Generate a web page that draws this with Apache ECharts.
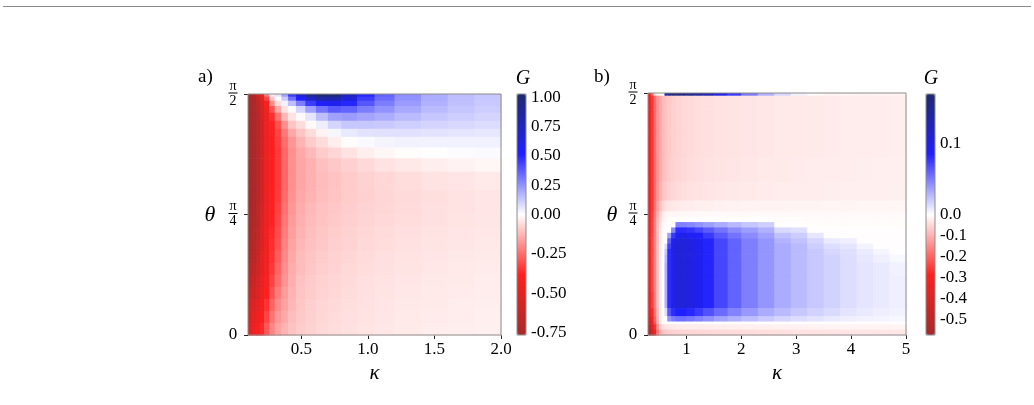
<!DOCTYPE html>
<html>
<head>
<meta charset="utf-8">
<script src="https://cdn.jsdelivr.net/npm/echarts@6/dist/echarts.min.js"></script>
<style>
  html, body { margin: 0; padding: 0; background: #fff; }
  #chart { width: 1034px; height: 405px; }
</style>
</head>
<body>
<div id="chart"></div>
<script>
  // ---- panel a) : kappa cell edges, theta cell edges (degrees, top -> bottom), G values
  const kappaA = [0.1, 0.13, 0.16, 0.19, 0.22, 0.26, 0.30, 0.35, 0.40, 0.46, 0.53, 0.61, 0.70, 0.80, 0.92, 1.05, 1.2, 1.4, 1.6, 1.8, 2.0];
  const thetaA = [90, 89, 87.5, 85.5, 83, 80, 77, 74, 70, 66, 61, 54, 49.5, 45, 40.5, 36, 31.5, 27, 22.5, 18, 13.5, 9, 4.5, 0];
  const gA = [
    [-0.77, -0.72, -0.6, -0.45, -0.22, -0.03, 0.06, 0.22, 0.45, 0.68, 0.92, 1.02, 1.0, 0.75, 0.5, 0.36, 0.26, 0.19, 0.15, 0.13],
    [-0.77, -0.73, -0.63, -0.5, -0.32, -0.1, 0.0, 0.12, 0.33, 0.52, 0.72, 0.82, 0.8, 0.65, 0.45, 0.34, 0.25, 0.19, 0.15, 0.13],
    [-0.77, -0.74, -0.66, -0.54, -0.4, -0.2, -0.06, 0.03, 0.15, 0.3, 0.45, 0.55, 0.58, 0.5, 0.39, 0.3, 0.23, 0.18, 0.145, 0.125],
    [-0.77, -0.74, -0.67, -0.56, -0.44, -0.3, -0.15, -0.05, 0.01, 0.1, 0.22, 0.32, 0.38, 0.36, 0.3, 0.25, 0.2, 0.16, 0.135, 0.115],
    [-0.77, -0.74, -0.68, -0.57, -0.45, -0.36, -0.24, -0.12, -0.05, -0.01, 0.06, 0.15, 0.22, 0.23, 0.21, 0.19, 0.16, 0.13, 0.115, 0.1],
    [-0.77, -0.74, -0.68, -0.58, -0.46, -0.38, -0.3, -0.19, -0.1, -0.06, -0.01, 0.04, 0.1, 0.13, 0.13, 0.125, 0.11, 0.1, 0.09, 0.08],
    [-0.77, -0.74, -0.68, -0.58, -0.46, -0.39, -0.32, -0.23, -0.15, -0.1, -0.06, -0.02, 0.02, 0.05, 0.065, 0.07, 0.07, 0.065, 0.06, 0.055],
    [-0.77, -0.74, -0.68, -0.58, -0.46, -0.4, -0.33, -0.25, -0.18, -0.13, -0.09, -0.06, -0.03, -0.005, 0.015, 0.025, 0.03, 0.03, 0.032, 0.032],
    [-0.77, -0.74, -0.68, -0.58, -0.46, -0.4, -0.34, -0.26, -0.19, -0.15, -0.12, -0.09, -0.07, -0.05, -0.03, -0.015, -0.005, 0.003, 0.008, 0.01],
    [-0.77, -0.74, -0.68, -0.58, -0.46, -0.4, -0.34, -0.26, -0.19, -0.155, -0.135, -0.11, -0.095, -0.08, -0.065, -0.05, -0.04, -0.03, -0.022, -0.015],
    [-0.77, -0.74, -0.68, -0.58, -0.46, -0.4, -0.34, -0.26, -0.19, -0.155, -0.135, -0.115, -0.103, -0.09, -0.078, -0.068, -0.058, -0.05, -0.044, -0.038],
    [-0.77, -0.74, -0.68, -0.58, -0.46, -0.395, -0.335, -0.255, -0.185, -0.15, -0.13, -0.113, -0.1, -0.09, -0.08, -0.071, -0.063, -0.056, -0.05, -0.045],
    [-0.76, -0.73, -0.67, -0.57, -0.455, -0.39, -0.325, -0.245, -0.178, -0.142, -0.122, -0.107, -0.096, -0.086, -0.076, -0.068, -0.061, -0.054, -0.049, -0.044],
    [-0.75, -0.72, -0.66, -0.56, -0.45, -0.38, -0.315, -0.235, -0.172, -0.138, -0.118, -0.103, -0.093, -0.083, -0.073, -0.065, -0.059, -0.053, -0.047, -0.043],
    [-0.74, -0.71, -0.65, -0.55, -0.445, -0.37, -0.305, -0.225, -0.165, -0.132, -0.112, -0.098, -0.088, -0.078, -0.068, -0.061, -0.055, -0.05, -0.045, -0.041],
    [-0.73, -0.7, -0.63, -0.54, -0.44, -0.36, -0.295, -0.215, -0.158, -0.125, -0.107, -0.094, -0.084, -0.075, -0.065, -0.058, -0.052, -0.047, -0.043, -0.039],
    [-0.71, -0.68, -0.61, -0.52, -0.43, -0.35, -0.28, -0.205, -0.15, -0.118, -0.1, -0.088, -0.079, -0.07, -0.061, -0.055, -0.049, -0.044, -0.04, -0.036],
    [-0.68, -0.65, -0.59, -0.5, -0.42, -0.34, -0.265, -0.195, -0.143, -0.113, -0.096, -0.084, -0.075, -0.067, -0.059, -0.053, -0.047, -0.042, -0.038, -0.035],
    [-0.65, -0.62, -0.56, -0.48, -0.405, -0.32, -0.25, -0.185, -0.137, -0.107, -0.091, -0.079, -0.071, -0.063, -0.055, -0.049, -0.044, -0.04, -0.036, -0.033],
    [-0.61, -0.58, -0.53, -0.46, -0.38, -0.295, -0.225, -0.172, -0.13, -0.102, -0.087, -0.076, -0.068, -0.06, -0.053, -0.047, -0.042, -0.038, -0.034, -0.031],
    [-0.57, -0.53, -0.49, -0.43, -0.35, -0.27, -0.2, -0.16, -0.125, -0.098, -0.083, -0.072, -0.064, -0.057, -0.051, -0.045, -0.04, -0.036, -0.032, -0.029],
    [-0.54, -0.49, -0.45, -0.4, -0.32, -0.24, -0.18, -0.145, -0.115, -0.093, -0.08, -0.07, -0.062, -0.055, -0.049, -0.043, -0.038, -0.034, -0.031, -0.028],
    [-0.52, -0.46, -0.42, -0.37, -0.29, -0.21, -0.16, -0.13, -0.105, -0.088, -0.077, -0.067, -0.059, -0.053, -0.047, -0.041, -0.036, -0.032, -0.029, -0.026]
  ];

  // ---- panel b)
  const kappaB = [0.3, 0.35, 0.4, 0.45, 0.5, 0.55, 0.6, 0.65, 0.72, 0.8, 0.9, 1.0, 1.15, 1.3, 1.5, 1.75, 2.0, 2.3, 2.6, 2.9, 3.2, 3.5, 3.8, 4.1, 4.4, 4.7, 5.0];
  const thetaB = [90, 89, 84, 76, 66, 57, 50, 46, 44, 42, 40, 38, 36, 34, 32, 30, 27, 22, 16, 10, 7, 5, 4, 2, 0];
  const gB = [
    [-0.30, -0.20, -0.05, 0, 0, 0, 0.12, 0.155, 0.16, 0.16, 0.155, 0.15, 0.14, 0.13, 0.1, 0.075, 0.05, 0.03, 0.015, 0.005, -0.005, -0.01, -0.012, -0.014, -0.015, -0.016],
    [-0.31, -0.26, -0.19, -0.14, -0.11, -0.09, -0.078, -0.068, -0.06, -0.055, -0.05, -0.046, -0.043, -0.04, -0.037, -0.035, -0.033, -0.031, -0.029, -0.028, -0.027, -0.026, -0.025, -0.024, -0.023, -0.022],
    [-0.31, -0.26, -0.19, -0.14, -0.11, -0.09, -0.078, -0.068, -0.06, -0.055, -0.05, -0.046, -0.043, -0.04, -0.037, -0.035, -0.033, -0.031, -0.029, -0.028, -0.027, -0.026, -0.025, -0.024, -0.023, -0.022],
    [-0.31, -0.26, -0.19, -0.14, -0.11, -0.09, -0.078, -0.068, -0.06, -0.055, -0.05, -0.046, -0.043, -0.04, -0.037, -0.035, -0.033, -0.031, -0.029, -0.028, -0.027, -0.026, -0.025, -0.024, -0.023, -0.022],
    [-0.31, -0.26, -0.19, -0.14, -0.108, -0.088, -0.075, -0.066, -0.058, -0.053, -0.048, -0.044, -0.041, -0.038, -0.035, -0.033, -0.031, -0.029, -0.027, -0.026, -0.025, -0.024, -0.023, -0.022, -0.021, -0.02],
    [-0.31, -0.26, -0.19, -0.135, -0.1, -0.08, -0.066, -0.058, -0.051, -0.047, -0.043, -0.039, -0.037, -0.034, -0.031, -0.03, -0.028, -0.026, -0.025, -0.024, -0.023, -0.022, -0.021, -0.02, -0.02, -0.019],
    [-0.31, -0.26, -0.18, -0.12, -0.08, -0.055, -0.039, -0.034, -0.03, -0.027, -0.025, -0.023, -0.021, -0.02, -0.018, -0.017, -0.016, -0.015, -0.015, -0.014, -0.014, -0.013, -0.013, -0.012, -0.012, -0.011],
    [-0.31, -0.25, -0.17, -0.1, -0.06, -0.03, -0.015, -0.012, -0.011, -0.01, -0.009, -0.009, -0.008, -0.008, -0.008, -0.008, -0.008, -0.008, -0.008, -0.008, -0.008, -0.008, -0.008, -0.008, -0.008, -0.008],
    [-0.31, -0.25, -0.165, -0.09, -0.05, -0.02, -0.008, -0.004, -0.003, -0.003, -0.003, -0.003, -0.003, -0.003, -0.003, -0.003, -0.003, -0.003, -0.004, -0.004, -0.005, -0.005, -0.005, -0.005, -0.005, -0.005],
    [-0.30, -0.245, -0.16, -0.085, -0.04, -0.012, -0.004, -0.003, -0.002, 0.048, 0.048, 0.046, 0.042, 0.037, 0.032, 0.027, 0.022, 0.018, -0.003, -0.003, -0.004, -0.004, -0.004, -0.004, -0.004, -0.004],
    [-0.30, -0.245, -0.16, -0.08, -0.033, -0.008, -0.003, -0.002, 0.045, 0.08, 0.08, 0.077, 0.07, 0.062, 0.053, 0.044, 0.037, 0.03, 0.014, 0.012, -0.003, -0.003, -0.003, -0.003, -0.003, -0.003],
    [-0.30, -0.24, -0.16, -0.08, -0.03, -0.005, -0.002, 0.036, 0.075, 0.096, 0.096, 0.092, 0.085, 0.075, 0.063, 0.053, 0.044, 0.036, 0.024, 0.0195, 0.0095, -0.003, -0.003, -0.003, -0.003, -0.003],
    [-0.30, -0.24, -0.16, -0.08, -0.028, -0.004, -0.002, 0.06, 0.09, 0.107, 0.107, 0.102, 0.094, 0.083, 0.07, 0.059, 0.049, 0.04, 0.029, 0.023, 0.016, 0.0077, 0.006, -0.003, -0.003, -0.003],
    [-0.30, -0.24, -0.16, -0.08, -0.026, -0.003, 0.0135, 0.072, 0.1, 0.107, 0.107, 0.102, 0.094, 0.083, 0.07, 0.059, 0.049, 0.04, 0.032, 0.026, 0.019, 0.013, 0.0098, 0.0045, -0.003, -0.003],
    [-0.30, -0.24, -0.16, -0.08, -0.025, -0.003, 0.022, 0.08, 0.1, 0.107, 0.107, 0.102, 0.094, 0.083, 0.07, 0.059, 0.049, 0.04, 0.032, 0.026, 0.021, 0.015, 0.012, 0.0075, 0.0036, -0.002],
    [-0.30, -0.24, -0.16, -0.08, -0.025, -0.003, 0.027, 0.08, 0.1, 0.107, 0.107, 0.102, 0.094, 0.083, 0.07, 0.059, 0.049, 0.04, 0.032, 0.026, 0.021, 0.017, 0.013, 0.009, 0.006, 0.0027],
    [-0.30, -0.24, -0.16, -0.08, -0.025, -0.003, 0.03, 0.08, 0.1, 0.107, 0.107, 0.102, 0.094, 0.083, 0.07, 0.059, 0.049, 0.04, 0.032, 0.026, 0.021, 0.017, 0.013, 0.01, 0.008, 0.0054],
    [-0.30, -0.24, -0.16, -0.08, -0.025, -0.003, 0.03, 0.08, 0.1, 0.107, 0.107, 0.102, 0.094, 0.083, 0.07, 0.059, 0.049, 0.04, 0.032, 0.026, 0.021, 0.017, 0.013, 0.01, 0.008, 0.006],
    [-0.32, -0.25, -0.165, -0.08, -0.025, -0.003, 0.03, 0.08, 0.1, 0.107, 0.107, 0.102, 0.094, 0.083, 0.07, 0.059, 0.049, 0.04, 0.032, 0.026, 0.021, 0.017, 0.013, 0.01, 0.008, 0.006],
    [-0.35, -0.28, -0.18, -0.09, -0.025, -0.003, 0.0135, 0.064, 0.08, 0.086, 0.086, 0.082, 0.075, 0.066, 0.056, 0.047, 0.039, 0.032, 0.026, 0.021, 0.017, 0.014, 0.0104, 0.008, 0.0064, 0.0048],
    [-0.40, -0.32, -0.20, -0.095, -0.025, -0.004, -0.002, 0.04, 0.05, 0.054, 0.054, 0.051, 0.047, 0.042, 0.035, 0.03, 0.025, 0.02, 0.016, 0.013, 0.0105, 0.0085, 0.0065, 0.005, 0.004, 0.003],
    [-0.45, -0.36, -0.22, -0.10, -0.025, -0.006, -0.003, -0.003, -0.003, -0.003, -0.003, -0.003, -0.003, -0.003, -0.003, -0.003, -0.003, -0.003, -0.003, -0.003, -0.003, -0.003, -0.003, -0.003, -0.003, -0.003],
    [-0.50, -0.40, -0.27, -0.14, -0.06, -0.045, -0.035, -0.03, -0.028, -0.026, -0.025, -0.025, -0.024, -0.023, -0.022, -0.021, -0.02, -0.019, -0.018, -0.018, -0.017, -0.016, -0.016, -0.015, -0.015, -0.015],
    [-0.55, -0.45, -0.30, -0.17, -0.10, -0.08, -0.07, -0.065, -0.06, -0.057, -0.055, -0.054, -0.052, -0.05, -0.048, -0.046, -0.044, -0.042, -0.04, -0.038, -0.037, -0.035, -0.034, -0.033, -0.032, -0.031]
  ];

  // axis ticks
  const kTicksA = [0.5, 1.0, 1.5, 2.0];
  const kTicksB = [1, 2, 3, 4, 5];
  const thetaTicks = [0, 45, 90];
  const thetaTickLabels = ['0', 'π/4', 'π/2'];
  // colour bar ticks
  const cbTicksA = [-0.75, -0.5, -0.25, 0, 0.25, 0.5, 0.75, 1.0];
  const cbLabelsA = ['-0.75', '-0.50', '-0.25', '0.00', '0.25', '0.50', '0.75', '1.00'];
  const cbTicksB = [-0.5, -0.4, -0.3, -0.2, -0.1, 0, 0.1];
  const cbLabelsB = ['-0.5', '-0.4', '-0.3', '-0.2', '-0.1', '0.0', '0.1'];
  const rangeA = [-0.765, 1.03];
  const rangeB = [-0.575, 0.169];

  const cmap = ['#a52a2a', '#ff2020', '#ffffff', '#2020ff', '#1f2a6b'];
  const FONT = "'Liberation Serif', 'DejaVu Serif', serif";

  // two-slope norm around 0 -> [0, 1]
  function twoSlope(range) {
    return v => v >= 0 ? 0.5 + 0.5 * v / range[1] : 0.5 * (1 - v / range[0]);
  }
  const normA = twoSlope(rangeA);
  const normB = twoSlope(rangeB);

  function buildCells(kEdges, tEdges, rows, norm) {
    const out = [];
    rows.forEach((row, i) => {
      row.forEach((g, j) => {
        out.push([kEdges[j], kEdges[j + 1], tEdges[i + 1], tEdges[i], norm(g), g]);
      });
    });
    return out;
  }

  function renderCell(params, api) {
    const p0 = api.coord([api.value(0), api.value(3)]);
    const p1 = api.coord([api.value(1), api.value(2)]);
    return {
      type: 'rect',
      shape: { x: p0[0], y: p0[1], width: p1[0] - p0[0] + 0.6, height: p1[1] - p0[1] + 0.6 },
      style: { fill: api.visual('color') }
    };
  }

  function thetaLabel(v) {
    const lab = thetaTickLabels[thetaTicks.indexOf(v)];
    if (lab.indexOf('/') < 0) return lab;
    const parts = lab.split('/');
    return '{n|' + parts[0] + '}\n{b| }\n{d|' + parts[1] + '}';
  }
  const fracRich = {
    n: { fontFamily: FONT, fontSize: 14, lineHeight: 11, align: 'center', color: '#000' },
    b: { width: 9, height: 1, lineHeight: 3, fontSize: 1, backgroundColor: '#000', align: 'center' },
    d: { fontFamily: FONT, fontSize: 14, lineHeight: 13, align: 'center', color: '#000' }
  };

  const tickStyle = { show: true, length: 4, lineStyle: { color: '#222', width: 1 } };
  const labelStyle = { color: '#000', fontFamily: FONT, fontSize: 17 };

  function kAxis(gridIndex, min, max, ticks, digits) {
    return {
      type: 'value', gridIndex: gridIndex, min: min, max: max,
      axisLine: { show: false },
      splitLine: { show: false },
      axisTick: Object.assign({ customValues: ticks }, tickStyle),
      axisLabel: Object.assign({ customValues: ticks, margin: 6,
        formatter: v => v.toFixed(digits) }, labelStyle),
      name: 'κ', nameLocation: 'middle', nameGap: 24,
      nameTextStyle: { fontFamily: FONT, fontSize: 21, fontStyle: 'italic', color: '#000' }
    };
  }
  function tAxis(gridIndex) {
    return {
      type: 'value', gridIndex: gridIndex, min: 0, max: 90,
      axisLine: { show: false },
      splitLine: { show: false },
      axisTick: Object.assign({ customValues: thetaTicks }, tickStyle),
      axisLabel: Object.assign({ customValues: thetaTicks, margin: 15, align: 'center',
        formatter: thetaLabel, rich: fracRich }, labelStyle)
    };
  }
  function cbAxis(gridIndex, ticks, labels, norm) {
    const pos = ticks.map(norm);
    return {
      type: 'value', gridIndex: gridIndex, min: 0, max: 1, position: 'right',
      axisLine: { show: false },
      splitLine: { show: false },
      axisTick: Object.assign({ customValues: pos }, tickStyle, { length: 3 }),
      axisLabel: Object.assign({ customValues: pos, margin: 5,
        formatter: v => {
          let best = 0;
          pos.forEach((p, i) => { if (Math.abs(p - v) < Math.abs(pos[best] - v)) best = i; });
          return labels[best];
        } }, labelStyle)
    };
  }
  const border = { show: true, borderColor: '#8c8c8c', borderWidth: 1, backgroundColor: 'transparent', z: 10 };

  const option = {
    animation: false,
    grid: [
      Object.assign({ left: 248, top: 94, width: 253, height: 241 }, border),
      Object.assign({ left: 648, top: 93, width: 258, height: 242 }, border),
      Object.assign({ left: 517, top: 94, width: 9, height: 241 }, border),
      Object.assign({ left: 926, top: 94, width: 9, height: 241 }, border)
    ],
    xAxis: [
      kAxis(0, 0.1, 2.0, kTicksA, 1),
      kAxis(1, 0.3, 5.0, kTicksB, 0),
      { type: 'value', gridIndex: 2, show: false, min: 0, max: 1 },
      { type: 'value', gridIndex: 3, show: false, min: 0, max: 1 }
    ],
    yAxis: [
      tAxis(0),
      tAxis(1),
      cbAxis(2, cbTicksA, cbLabelsA, normA),
      cbAxis(3, cbTicksB, cbLabelsB, normB)
    ],
    visualMap: [
      { type: 'continuous', seriesIndex: 0, dimension: 4, min: 0, max: 1,
        inRange: { color: cmap }, calculable: false, hoverLink: false,
        left: 517, top: 94, itemWidth: 9, itemHeight: 241, padding: 0 },
      { type: 'continuous', seriesIndex: 1, dimension: 4, min: 0, max: 1,
        inRange: { color: cmap }, calculable: false, hoverLink: false,
        left: 926, top: 94, itemWidth: 9, itemHeight: 241, padding: 0 }
    ],
    series: [
      { type: 'custom', xAxisIndex: 0, yAxisIndex: 0, renderItem: renderCell, silent: true, z: 2,
        encode: { x: [0, 1], y: [2, 3] }, data: buildCells(kappaA, thetaA, gA, normA) },
      { type: 'custom', xAxisIndex: 1, yAxisIndex: 1, renderItem: renderCell, silent: true, z: 2,
        encode: { x: [0, 1], y: [2, 3] }, data: buildCells(kappaB, thetaB, gB, normB) }
    ],
    graphic: [
      { type: 'line', shape: { x1: 3, y1: 6.5, x2: 1031, y2: 6.5 }, style: { stroke: '#8a8a8a', lineWidth: 1 } },
      { type: 'text', x: 198, y: 87, style: { text: 'a)', font: '19px ' + FONT, fill: '#000', textVerticalAlign: 'bottom' } },
      { type: 'text', x: 594, y: 87, style: { text: 'b)', font: '19px ' + FONT, fill: '#000', textVerticalAlign: 'bottom' } },
      { type: 'text', x: 523, y: 89, style: { text: 'G', font: 'italic 20px ' + FONT, fill: '#000', textAlign: 'center', textVerticalAlign: 'bottom' } },
      { type: 'text', x: 931, y: 89, style: { text: 'G', font: 'italic 20px ' + FONT, fill: '#000', textAlign: 'center', textVerticalAlign: 'bottom' } },
      { type: 'text', x: 210, y: 215, style: { text: 'θ', font: 'italic 22px ' + FONT, fill: '#000', textAlign: 'center', textVerticalAlign: 'middle' } },
      { type: 'text', x: 612, y: 215, style: { text: 'θ', font: 'italic 22px ' + FONT, fill: '#000', textAlign: 'center', textVerticalAlign: 'middle' } }
    ]
  };

  const chart = echarts.init(document.getElementById('chart'));
  chart.setOption(option);
</script>
</body>
</html>
